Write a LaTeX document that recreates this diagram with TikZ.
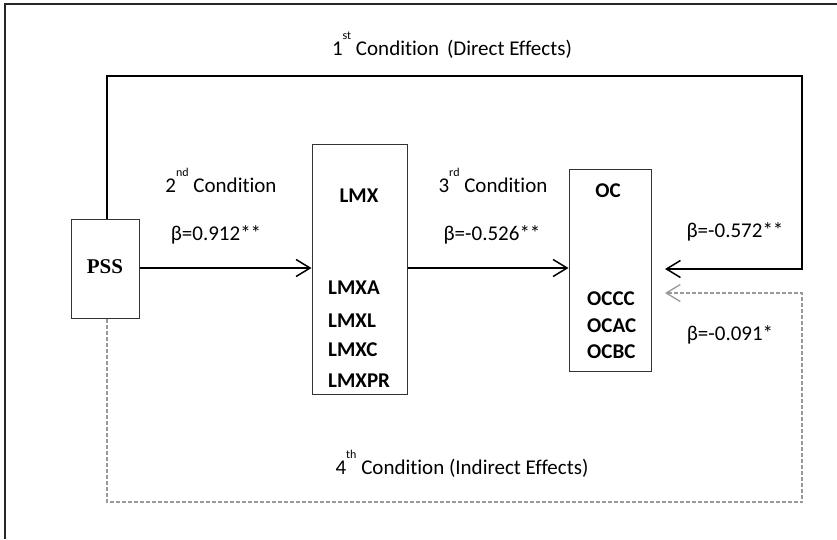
\documentclass[tikz,border=0pt]{standalone}
\usepackage{fontspec}
\setmainfont{Carlito}[Ligatures=NoCommon]
\newfontfamily\pssfont{Liberation Serif}
\usetikzlibrary{arrows.meta}
% raised ordinal suffix, as in 1st, 2nd ...
\newcommand\ordsup[1]{\raisebox{16pt}{\fontsize{12}{12}\selectfont #1}}
\tikzset{
  box/.style={draw=black!80, line width=1pt, inner sep=0pt, rectangle},
  lbl/.style={font=\fontsize{21}{24}\selectfont, anchor=base, inner sep=0pt},
  var/.style={font=\bfseries\fontsize{21}{24}\selectfont, anchor=base west, inner sep=0pt},
  head/.style={line width=1.5pt, black},
  link/.style={head, -{Straight Barb[length=14pt,width=17pt,line width=1.5pt]}},
  ilink/.style={draw=black!40, line width=1.3pt, dash pattern=on 4pt off 2pt,
    -{Straight Barb[length=14pt,width=17pt,line width=1.3pt]}},
}
\begin{document}
\begin{tikzpicture}[x=1pt,y=-1pt]
\useasboundingbox (0,0) rectangle (837,539);
% outer frame
\draw[line width=1.5pt, black!85] (5,539) -- (5,4) -- (837,4);

% variable boxes
\node[box, minimum width=68pt, minimum height=99pt] (pss) at (105,268.5) {};
\node[box, minimum width=95pt, minimum height=250pt] (lmx) at (359.5,269) {};
\node[box, minimum width=82pt, minimum height=202pt] (oc) at (610,270) {};

% box contents
\node[font=\pssfont\bfseries\fontsize{21}{24}\selectfont, anchor=base, inner sep=0pt] (psst) at (105,273) {PSS};
\node[lbl, font=\bfseries\fontsize{21}{24}\selectfont] (lmxt) at (359,202) {LMX};
\node[var] (lmxa) at (328,294) {LMXA};
\node[var] (lmxl) at (328,327) {LMXL};
\node[var] (lmxc) at (328,356) {LMXC};
\node[var] (lmxpr) at (328,387) {LMXPR};
\node[lbl, font=\bfseries\fontsize{21}{24}\selectfont] (oct) at (608,197) {OC};
\node[var] (occc) at (587,305) {OCCC};
\node[var] (ocac) at (587,332) {OCAC};
\node[var] (ocbc) at (587,358) {OCBC};

% path corners
\coordinate (dtl) at (107,76);
\coordinate (dtr) at (802,76);
\coordinate (dr) at (802,269);
\coordinate (dend) at (665,269);
\coordinate (ibl) at (107,502);
\coordinate (ibr) at (802,502);
\coordinate (ir) at (802,293);
\coordinate (iend) at (665,293);

% mediation paths
\draw[link] (pss.east |- 0,268) -- (lmx.west |- 0,268);
\draw[link] (lmx.east |- 0,268) -- (oc.west |- 0,268);
\draw[link] (pss.north -| dtl) -- (dtl) -- (dtr) -- (dr) -- (dend);
\draw[ilink] (pss.south -| ibl) -- (ibl) -- (ibr) -- (ir) -- (iend);

% labels
\node[lbl] (c1) at (452,55) {1\ordsup{st} Condition\hspace{8pt}(Direct Effects)};
\node[lbl] (c2) at (221,192) {2\ordsup{nd} Condition};
\node[lbl] (b2) at (216,240) {β=0.912**};
\node[lbl] (c3) at (493,192) {3\ordsup{rd} Condition};
\node[lbl] (b3) at (492,240) {β=-0.526**};
\node[lbl] (b1) at (735,237) {β=-0.572**};
\node[lbl] (b4) at (730,340) {β=-0.091*};
\node[lbl] (c4) at (462,474) {4\ordsup{th} Condition (Indirect Effects)};
\end{tikzpicture}
\end{document}
